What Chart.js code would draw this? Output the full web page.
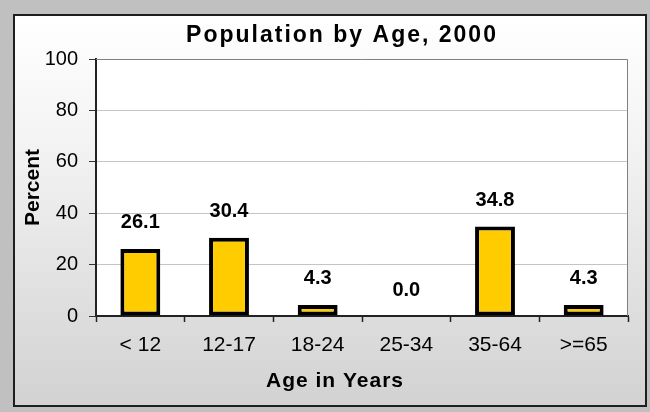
<!DOCTYPE html>
<html>
<head>
<meta charset="utf-8">
<script src="https://cdn.jsdelivr.net/npm/chart.js@4.4.0/dist/chart.umd.min.js"></script>
<style>
  html, body { margin: 0; padding: 0; }
  body { width: 650px; height: 412px; background: #c0c0c0; position: relative; overflow: hidden; }
  #panel {
    position: absolute; left: 13px; top: 14px; width: 630px; height: 389px;
    border: 2px solid #1e1e1e;
    background: linear-gradient(to bottom, #ffffff 0%, #f2f2f2 35%, #d2d2d2 100%);
  }
  #wrap { position: absolute; left: 0; top: 0; width: 630px; height: 389px; }
</style>
</head>
<body>
<div id="panel"><div id="wrap"><canvas id="ageChart"></canvas></div></div>
<script>
const chartTitle = 'Population by Age, 2000';
const xTitle = 'Age in Years';
const yTitle = 'Percent';
const ageGroups = ['< 12', '12-17', '18-24', '25-34', '35-64', '>=65'];
const percents = [26.1, 30.4, 4.3, 0.0, 34.8, 4.3];
const yTicks = [0, 20, 40, 60, 80, 100];

const FONT = '"Liberation Sans", Arial, sans-serif';

// white plot area plus the grey top/right border
const plotArea = {
    id: 'plotArea',
    beforeDraw(chart) {
        const { ctx, chartArea: a } = chart;
        ctx.save();
        ctx.fillStyle = '#ffffff';
        ctx.fillRect(a.left, a.top, a.right - a.left, a.bottom - a.top);
        ctx.restore();
    },
    afterDraw(chart) {
        const { ctx, chartArea: a } = chart;
        ctx.save();
        ctx.strokeStyle = '#808080';
        ctx.lineWidth = 1;
        ctx.beginPath();
        ctx.moveTo(a.left, a.top + 0.5);
        ctx.lineTo(a.right - 0.5, a.top + 0.5);
        ctx.lineTo(a.right - 0.5, a.bottom);
        ctx.stroke();
        ctx.restore();
    }
};

// chart title and x title: the original sits off-centre and is spaced wide
const titles = {
    id: 'titles',
    afterDraw(chart) {
        const { ctx, chartArea: a } = chart;
        ctx.save();
        ctx.fillStyle = '#000';
        ctx.textAlign = 'center';
        ctx.textBaseline = 'middle';
        ctx.font = 'bold 23px ' + FONT;
        ctx.letterSpacing = '2px';
        ctx.fillText(chartTitle, 327, 20);
        ctx.font = 'bold 21px ' + FONT;
        ctx.letterSpacing = '1px';
        ctx.fillText(xTitle, 320, a.bottom + 65);
        ctx.restore();
    }
};

const valueLabels = {
    id: 'valueLabels',
    afterDatasetsDraw(chart) {
        const { ctx } = chart;
        const meta = chart.getDatasetMeta(0);
        ctx.save();
        ctx.font = 'bold 20px ' + FONT;
        ctx.fillStyle = '#000';
        ctx.textAlign = 'center';
        ctx.textBaseline = 'middle';
        meta.data.forEach((bar, i) => {
            ctx.fillText(percents[i].toFixed(1), bar.x, bar.y - 26);
        });
        ctx.restore();
    }
};

new Chart(document.getElementById('ageChart'), {
    type: 'bar',
    data: {
        labels: ageGroups,
        datasets: [{
            data: percents,
            backgroundColor: '#ffcc00',
            borderColor: '#000000',
            borderWidth: c => c.raw === 0 ? 0 : 4,
            borderSkipped: false,
            categoryPercentage: 1,
            barPercentage: 0.45
        }]
    },
    options: {
        responsive: true,
        maintainAspectRatio: false,
        animation: false,
        events: [],
        layout: { padding: { top: 43, right: 17, bottom: 0, left: 0 } },
        plugins: {
            legend: { display: false },
            tooltip: { enabled: false },
            title: { display: false }
        },
        scales: {
            x: {
                afterFit: s => { s.height = 89; },
                grid: { drawOnChartArea: false, tickColor: '#222', tickLength: 6, tickWidth: 1.5, offset: true },
                border: { color: '#222', width: 2 },
                ticks: { color: '#000', font: { family: FONT, size: 21 }, padding: 11 }
            },
            y: {
                min: 0,
                max: 100,
                afterFit: s => { s.width = 81; },
                afterBuildTicks: s => { s.ticks = yTicks.map(v => ({ value: v })); },
                grid: { color: c => c.tick.value === 100 ? 'rgba(0,0,0,0)' : '#c4c4c4', tickColor: '#333', tickLength: 7 },
                border: { color: '#222', width: 2 },
                ticks: { color: '#000', font: { family: FONT, size: 20 }, padding: 11 },
                title: {
                    display: true,
                    text: yTitle,
                    color: '#000',
                    font: { family: FONT, size: 21, weight: 'bold' },
                    padding: { top: 6, bottom: 0 }
                }
            }
        }
    },
    plugins: [plotArea, titles, valueLabels]
});
</script>
</body>
</html>
